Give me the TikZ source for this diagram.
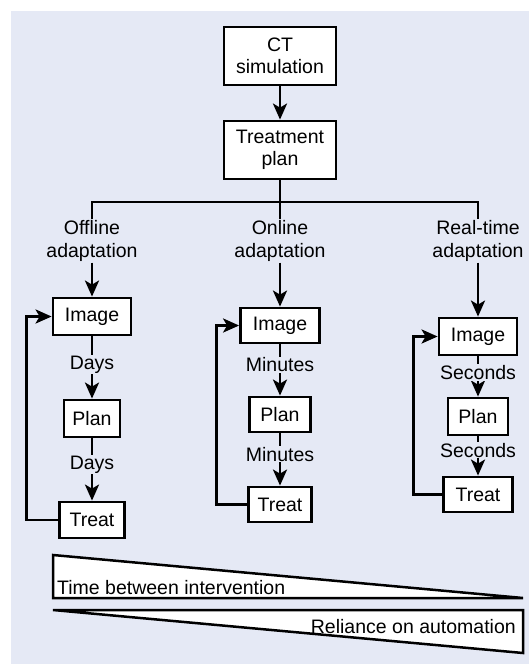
\documentclass[tikz,border=0pt]{standalone}
\usepackage{fontspec}
\setmainfont{Liberation Sans}
\usetikzlibrary{arrows.meta}
\definecolor{bgc}{RGB}{229,233,245}
\begin{document}
\begin{tikzpicture}[x=1pt,y=-1pt,
  every node/.style={font=\fontsize{19.5}{22.5}\selectfont, text=black},
  box/.style={draw, line width=2.8pt, fill=white, minimum height=36pt, inner sep=2pt},
  lbl/.style={align=center, inner sep=1pt},
  tlbl/.style={fill=bgc, inner sep=1pt},
  ln/.style={line width=2.8pt},
  arr/.style={ln, -{Stealth[length=16pt,width=14pt,inset=4pt]}},
  wedge/.style={draw, line width=2.5pt, fill=white}]
\useasboundingbox (0,0) rectangle (529,664);
\fill[white] (0,0) rectangle (529,664);
\fill[bgc] (11,11) rectangle (529,664);

% top
\node[box, minimum width=112pt, minimum height=58pt, align=center] (ct) at (280,56) {CT\\simulation};
\node[box, minimum width=112pt, minimum height=58pt, align=center] (tp) at (280,150) {Treatment\\plan};
\draw[arr] (ct) -- (tp);

% branch labels
\node[lbl] (off) at (92,241) {Offline\\adaptation};
\node[lbl] (on) at (280,241) {Online\\adaptation};
\node[lbl] (rt) at (478,241) {Real-time\\adaptation};
\coordinate (bus) at (280,202);
\draw[ln] (tp) -- (bus);
\draw[ln] (off.north) |- (bus) -| (rt.north);
\draw[ln] (bus) -- (on.north);

% offline column
\node[box, minimum width=78pt, minimum height=37pt] (i1) at (92,316.5) {Image};
\node[box, minimum width=56pt, minimum height=37pt] (p1) at (92,418.5) {Plan};
\node[box, minimum width=65pt, minimum height=36pt] (t1) at (92,520) {Treat};
\draw[arr] (off) -- (i1);
\draw[arr] (i1) -- node[tlbl,pos=0.45]{Days} (p1);
\draw[arr] (p1) -- node[tlbl,pos=0.42]{Days} (t1);
\draw[arr] (t1.west) -- ++(-32,0) |- (i1.west);

% online column
\node[box, minimum width=79pt, minimum height=35pt] (i2) at (280,325.5) {Image};
\node[box, minimum width=61pt, minimum height=35pt] (p2) at (280,414.5) {Plan};
\node[box, minimum width=63pt, minimum height=35pt] (t2) at (280,504.5) {Treat};
\draw[arr] (on) -- (i2);
\draw[arr] (i2) -- node[tlbl,pos=0.4]{Minutes} (p2);
\draw[arr] (p2) -- node[tlbl,pos=0.4]{Minutes} (t2);
\draw[arr] (t2.west) -- ++(-31,0) |- (i2.west);

% real-time column
\node[box, minimum width=78pt, minimum height=37pt] (i3) at (478,336.5) {Image};
\node[box, minimum width=60pt, minimum height=37pt] (p3) at (478,416.5) {Plan};
\node[box, minimum width=69pt, minimum height=35pt] (t3) at (478,494.5) {Treat};
\draw[arr] (rt) -- (i3);
\draw[arr] (i3) -- node[tlbl,pos=0.4]{Seconds} (p3);
\draw[arr] (p3) -- node[tlbl,pos=0.35]{Seconds} (t3);
\draw[arr] (t3.west) -- ++(-29,0) |- (i3.west);

% wedges
\draw[wedge] (53,555) -- (523,598) -- (53,598) -- cycle;
\node[anchor=west, inner sep=0pt] (tbi) at (57,587.5) {Time between intervention};
\draw[wedge] (53,610) -- (523,610) -- (523,653) -- cycle;
\node[anchor=east, inner sep=0pt] (roa) at (516,627) {Reliance on automation};
\end{tikzpicture}
\end{document}
